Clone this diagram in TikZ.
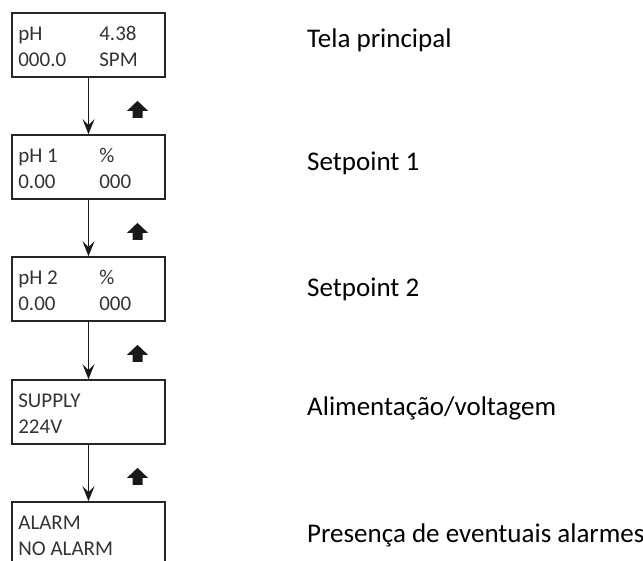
\documentclass[tikz,border=0pt]{standalone}
\usepackage{fontspec}
\setmainfont{Carlito}
\newfontfamily\lcdfont{Carlito}
\usetikzlibrary{arrows.meta,calc}

\begin{document}
\begin{tikzpicture}[x=1pt,y=-1pt,
    screen/.style={draw=black!85,line width=1.7pt,minimum width=153pt,minimum height=64pt,inner sep=0pt},
    lcd/.style={font=\lcdfont\fontsize{21}{21}\selectfont,text=black!80,anchor=base west,inner sep=0pt},
    caption/.style={font=\fontsize{27}{27}\selectfont,anchor=base west,inner sep=0pt},
    flow/.style={line width=1.7pt,draw=black!90,-{Stealth[length=15pt,width=12pt,inset=6pt]}},
    upkey/.style={fill=black!90}]
  % Frame
  \clip (0,0) rectangle (643,561);
  % Screens
  \foreach \n/\y in {1/13,2/135,3/257,4/380,5/502} {
      \node[screen] (S\n) at (88.5,\y+32) {};
    }
  % Screen texts
  \foreach \n/\a/\c in {1/pH/000.0, 2/pH 1/0.00, 3/pH 2/0.00, 4/SUPPLY/224V, 5/ALARM/NO ALARM} {
      \node[lcd] (L\n) at ($(S\n.north west)+(7,28)$) {\a};
      \node[lcd] (M\n) at ($(S\n.north west)+(7,54)$) {\c};
    }
  \foreach \n/\b/\d in {1/4.38/SPM, 2/\%/000, 3/\%/000} {
      \node[lcd] (R\n) at ($(S\n.north west)+(88,28)$) {\b};
      \node[lcd] (V\n) at ($(S\n.north west)+(88,54)$) {\d};
    }
  % Captions
  \foreach \n/\y/\t in {1/48/Tela principal, 2/171/Setpoint 1, 3/297/Setpoint 2,
      4/416/{Alimentação/voltagem}, 5/542/Presença de eventuais alarmes} {
      \node[caption] (C\n) at (307,\y) {\t};
    }
  % Connectors & up keys
  \foreach \n [evaluate=\n as \m using int(\n+1)] in {1,...,4} {
      \draw[flow] (S\n.south) -- (S\m.north);
      \fill[upkey] ($(S\n.south)+(49,23)$) -- ++(10.5,10) -- ++(-5.5,0) -- ++(0,7)
        -- ++(-10,0) -- ++(0,-7) -- ++(-5.5,0) -- cycle;
    }
\end{tikzpicture}
\end{document}
